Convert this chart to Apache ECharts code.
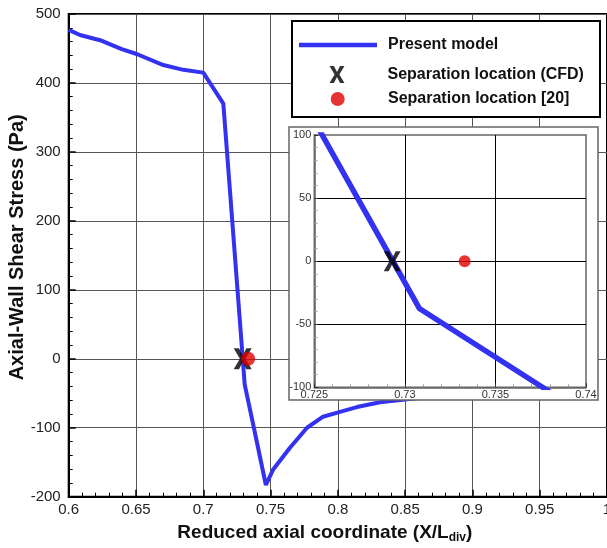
<!DOCTYPE html>
<html>
<head>
<meta charset="utf-8">
<script src="https://cdn.jsdelivr.net/npm/echarts@6/dist/echarts.min.js"></script>
<style>
  html, body { margin: 0; padding: 0; background: #fff; }
  #chart { width: 607px; height: 548px; }
</style>
</head>
<body>
<div id="chart"></div>
<script>
const FONT = "'Liberation Sans', Arial, Helvetica, sans-serif";

// Axial wall shear stress (Pa) along the reduced axial coordinate X/L_div
const stressX = [0.6, 0.6084, 0.6233, 0.6394, 0.6505, 0.6703, 0.6852, 0.7, 0.7149,
  0.7308, 0.7376, 0.7465, 0.7518, 0.7644, 0.7771, 0.789, 0.8016, 0.8142, 0.8313,
  0.855, 0.88, 0.92, 0.95];
const stressY = [477, 469.5, 462, 449, 442, 426, 419, 415, 370,
  -37.5, -100, -183, -161, -129, -100, -84, -77, -70, -63,
  -58, -53, -47, -43];

// Separation points: [X/L_div, stress]
const cfdSeparation = [0.7293, 0];
const refSeparation = [0.7333, 0];

// Axis ranges and tick steps
const mainXTicks = [0.6, 0.65, 0.7, 0.75, 0.8, 0.85, 0.9, 0.95, 1];
const mainYTicks = [-200, -100, 0, 100, 200, 300, 400, 500];
const zoomXTicks = [0.725, 0.73, 0.735, 0.74];
const zoomYTicks = [-100, -50, 0, 50, 100];

const seriesNames = ['Present model', 'Separation location (CFD)', 'Separation location [20]'];

const stressData = stressX.map((x, i) => [x, stressY[i]]);

const BLUE = '#3232f0';
const RED = '#e00000';
const X_PATH = 'path://M0,0L26,0L44,35L62,0L88,0L58,50L88,100L62,100L44,65L26,100L0,100L30,50Z';

const tickText = v => String(+v.toFixed(4));

function range(ticks) {
  return { min: ticks[0], max: ticks[ticks.length - 1], interval: +(ticks[1] - ticks[0]).toFixed(6) };
}

function mainAxis(ticks, extra) {
  const r = range(ticks);
  return Object.assign({
    type: 'value',
    gridIndex: 0,
    min: r.min, max: r.max, interval: r.interval,
    nameMoveOverlap: false,
    axisLine: { show: true, onZero: false, lineStyle: { color: '#000', width: 2 } },
    axisTick: { show: true, inside: true, length: 7, lineStyle: { color: '#000', width: 1.5 } },
    minorTick: { show: true, splitNumber: 5, length: 4, lineStyle: { color: '#000', width: 1 } },
    splitLine: { show: true, lineStyle: { color: '#555', width: 1 } },
    z: 1
  }, extra);
}

function zoomAxis(ticks, extra) {
  const r = range(ticks);
  return Object.assign({
    type: 'value',
    gridIndex: 1,
    min: r.min, max: r.max, interval: r.interval,
    axisLine: { show: true, onZero: false, lineStyle: { color: '#666', width: 1.5 } },
    axisTick: { show: true, inside: true, length: 4, lineStyle: { color: '#333', width: 1 } },
    minorTick: { show: true, splitNumber: 5, length: 3, lineStyle: { color: '#999', width: 1 } },
    splitLine: { show: true, showMinLine: false, showMaxLine: false, lineStyle: { color: '#000', width: 1 } },
    z: 12
  }, extra);
}

const chart = echarts.init(document.getElementById('chart'), null, { renderer: 'canvas' });

const legendText = { fontSize: 16, fontWeight: 'bold', color: '#111', fontFamily: FONT };

const option = {
  animation: false,
  backgroundColor: '#fff',
  grid: [
    { left: 68.7, top: 14, right: 0, bottom: 51.3, show: true, borderColor: '#000', borderWidth: 2,
      outerBoundsMode: 'none', containLabel: false, z: 0 },
    { left: 314.3, top: 135, width: 271.7, height: 252.3, show: true, borderColor: '#666', borderWidth: 1.5,
      outerBoundsMode: 'none', containLabel: false, z: 11 }
  ],
  xAxis: [
    mainAxis(mainXTicks, {
      axisLabel: { fontSize: 15, color: '#222', fontFamily: FONT, margin: 6, formatter: tickText },
      name: 'Reduced axial coordinate (X/L{sub|div})',
      nameLocation: 'middle',
      nameGap: 25,
      nameTextStyle: {
        fontSize: 19, fontWeight: 'bold', color: '#111', fontFamily: FONT,
        padding: [0, 26, 0, 0],
        rich: {
          sub: { fontSize: 12, fontWeight: 'bold', color: '#111', fontFamily: FONT, padding: [10, 0, 0, 0] }
        }
      }
    }),
    zoomAxis(zoomXTicks, {
      axisLabel: { fontSize: 11, color: '#333', fontFamily: FONT, margin: 2, formatter: tickText }
    })
  ],
  yAxis: [
    mainAxis(mainYTicks, {
      axisLabel: { fontSize: 15, color: '#222', fontFamily: FONT, margin: 8 },
      name: 'Axial-Wall Shear Stress (Pa)',
      nameLocation: 'middle',
      nameRotate: 90,
      nameGap: 41,
      nameTextStyle: {
        fontSize: 20, fontWeight: 'bold', color: '#111', fontFamily: FONT,
        padding: [0, 0, 0, 16]
      }
    }),
    zoomAxis(zoomYTicks, {
      axisLabel: { fontSize: 11, color: '#333', fontFamily: FONT, margin: 3 }
    })
  ],
  graphic: [
    { type: 'rect', z: 10, shape: { x: 289, y: 127, width: 309, height: 273 },
      style: { fill: '#fff', stroke: '#666', lineWidth: 1.5 } },
    { type: 'rect', z: 10, shape: { x: 292, y: 21, width: 308, height: 96 },
      style: { fill: '#fff', stroke: '#000', lineWidth: 2 } }
  ],
  legend: [
    { data: [{ name: seriesNames[0], icon: 'rect' }], left: 299, top: 37, padding: 0,
      itemWidth: 78, itemHeight: 4.5, selectedMode: false, z: 14,
      textStyle: Object.assign({ padding: [0, 0, 0, 6] }, legendText) },
    { data: [{ name: seriesNames[1], icon: X_PATH }], left: 329.5, top: 66, padding: 0,
      itemWidth: 16, itemHeight: 17, selectedMode: false, z: 14,
      itemStyle: { color: '#000' },
      textStyle: Object.assign({ padding: [0, 0, 0, 37.5] }, legendText) },
    { data: [{ name: seriesNames[2], icon: 'circle' }], left: 330.7, top: 91, padding: 0,
      itemWidth: 14, itemHeight: 14, selectedMode: false, z: 14,
      textStyle: Object.assign({ padding: [0, 0, 0, 38.3] }, legendText) }
  ],
  series: [
    {
      name: seriesNames[0], type: 'line', xAxisIndex: 0, yAxisIndex: 0,
      data: stressData, showSymbol: false, symbol: 'none',
      lineStyle: { color: BLUE, width: 4 }, itemStyle: { color: BLUE }, z: 2
    },
    {
      name: seriesNames[1], type: 'scatter', xAxisIndex: 0, yAxisIndex: 0,
      data: [cfdSeparation], symbol: X_PATH, symbolSize: [18, 21], symbolKeepAspect: false,
      itemStyle: { color: '#000' }, z: 3
    },
    {
      name: seriesNames[2], type: 'scatter', xAxisIndex: 0, yAxisIndex: 0,
      data: [refSeparation], symbol: 'circle', symbolSize: 14,
      itemStyle: { color: RED }, z: 4
    },
    {
      name: seriesNames[0], type: 'line', xAxisIndex: 1, yAxisIndex: 1,
      data: stressData, showSymbol: false, symbol: 'none', clip: true,
      lineStyle: { color: BLUE, width: 5.5 }, itemStyle: { color: BLUE }, z: 13
    },
    {
      name: seriesNames[1], type: 'scatter', xAxisIndex: 1, yAxisIndex: 1,
      data: [cfdSeparation], symbol: X_PATH, symbolSize: [17, 20], symbolKeepAspect: false,
      itemStyle: { color: '#000' }, z: 13
    },
    {
      name: seriesNames[2], type: 'scatter', xAxisIndex: 1, yAxisIndex: 1,
      data: [refSeparation], symbol: 'circle', symbolSize: 12,
      itemStyle: { color: RED }, z: 13
    }
  ]
};

chart.setOption(option);
</script>
</body>
</html>
